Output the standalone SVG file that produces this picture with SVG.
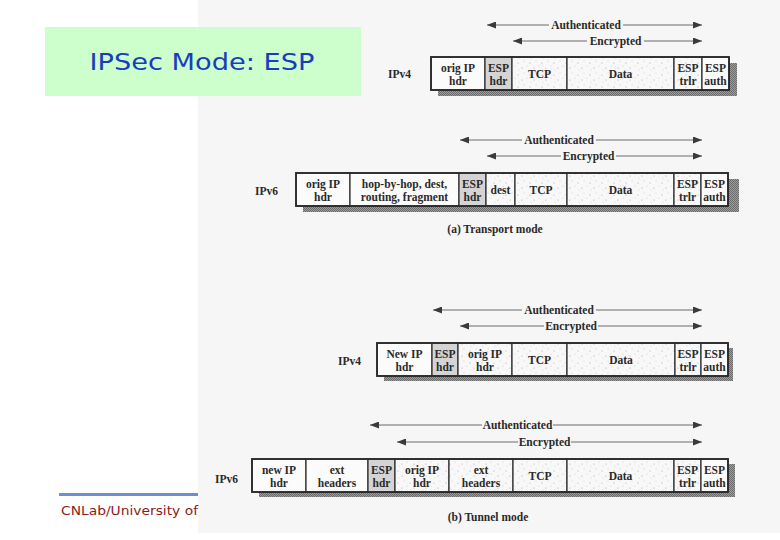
<svg xmlns="http://www.w3.org/2000/svg" width="780" height="540" viewBox="0 0 780 540">
<style>
.cell{stroke:#2a2a2a;stroke-width:1.2}
.plain{fill:#fbfbfb}
.hdr{fill:#d4d4d4}
.enc{fill:url(#speck)}
.outer{fill:none;stroke:#2a2a2a;stroke-width:1.8}
.shadow{fill:url(#shade)}
.t{font-family:"Liberation Serif","Times New Roman",serif;font-weight:bold;font-size:11.5px;fill:#2a2a2a;text-anchor:middle}
.lab{font-family:"Liberation Serif","Times New Roman",serif;font-weight:bold;font-size:11.5px;fill:#2a2a2a}
.arr{stroke:#6a6a6a;stroke-width:1;fill:none}
.al{marker-start:url(#head)}
.ar{marker-end:url(#head)}
</style>
<defs>
<pattern id="speck" width="12" height="12" patternUnits="userSpaceOnUse">
<rect width="12" height="12" fill="#f8f8f8"/>
<circle cx="2" cy="3" r="0.5" fill="#9a9a9a"/>
<circle cx="8" cy="1" r="0.45" fill="#aaa"/>
<circle cx="6" cy="8" r="0.5" fill="#9a9a9a"/>
<circle cx="11" cy="6" r="0.45" fill="#aaa"/>
<circle cx="3" cy="10" r="0.4" fill="#b0b0b0"/>
</pattern>
<pattern id="shade" width="2" height="2" patternUnits="userSpaceOnUse">
<rect width="2" height="2" fill="#9c9c9c"/>
<rect width="1" height="1" fill="#6c6c6c"/>
<rect x="1" y="1" width="1" height="1" fill="#6c6c6c"/>
</pattern>
<marker id="head" markerWidth="9" markerHeight="7" refX="9" refY="3.5" orient="auto-start-reverse" markerUnits="userSpaceOnUse">
<path d="M0,0 L9,3.5 L0,7 z" fill="#3a3a3a"/>
</marker>
</defs>

<rect x="0" y="0" width="780" height="540" fill="#ffffff"/>
<rect x="198" y="0" width="582" height="533" fill="#f6f6f6"/>

<g id="title">
<rect x="45" y="27" width="316" height="69" fill="#ccffcc"/>
<text x="202" y="70" font-family="'DejaVu Sans','Noto Sans',sans-serif" font-size="23" fill="#1a3cc0" text-anchor="middle" textLength="225" lengthAdjust="spacingAndGlyphs">IPSec Mode: ESP</text>
</g>

<g id="footer">
<rect x="59" y="493" width="139" height="3" fill="#6b8fd6"/>
<text x="61" y="515" font-family="'DejaVu Sans','Noto Sans',sans-serif" font-size="13" fill="#8b1a1a" textLength="137" lengthAdjust="spacingAndGlyphs">CNLab/University of</text>
</g>

<g id="connectors">
<line class="arr al" x1="487" y1="25" x2="549" y2="25"/>
<line class="arr ar" x1="623" y1="25" x2="702" y2="25"/>
<line class="arr al" x1="513" y1="41" x2="587" y2="41"/>
<line class="arr ar" x1="644" y1="41" x2="702" y2="41"/>

<line class="arr al" x1="460" y1="140" x2="522" y2="140"/>
<line class="arr ar" x1="596" y1="140" x2="702" y2="140"/>
<line class="arr al" x1="487" y1="156" x2="561" y2="156"/>
<line class="arr ar" x1="616" y1="156" x2="702" y2="156"/>

<line class="arr al" x1="433" y1="310" x2="522" y2="310"/>
<line class="arr ar" x1="596" y1="310" x2="702" y2="310"/>
<line class="arr al" x1="460" y1="326" x2="544" y2="326"/>
<line class="arr ar" x1="598" y1="326" x2="702" y2="326"/>

<line class="arr al" x1="370" y1="425" x2="482" y2="425"/>
<line class="arr ar" x1="553" y1="425" x2="702" y2="425"/>
<line class="arr al" x1="397" y1="442" x2="518" y2="442"/>
<line class="arr ar" x1="571" y1="442" x2="702" y2="442"/>

<text class="t" x="586" y="29">Authenticated</text>
<text class="t" x="615.5" y="45">Encrypted</text>
<text class="t" x="559" y="144">Authenticated</text>
<text class="t" x="588.5" y="160">Encrypted</text>
<text class="t" x="559" y="314">Authenticated</text>
<text class="t" x="571" y="330">Encrypted</text>
<text class="t" x="517.5" y="429">Authenticated</text>
<text class="t" x="544.5" y="446">Encrypted</text>
</g>

<!-- Row 1: IPv4 transport -->
<g id="row1">
<text class="lab" x="388" y="78">IPv4</text>
<rect class="shadow" x="438" y="63" width="299" height="33"/>
<g id="r1-orig"><rect class="cell plain" x="431" y="57" width="54" height="33"/><text class="t" x="458" y="71.5">orig IP</text><text class="t" x="458" y="84.5">hdr</text></g>
<g id="r1-esphdr"><rect class="cell hdr" x="485" y="57" width="27" height="33"/><text class="t" x="498.5" y="71.5">ESP</text><text class="t" x="498.5" y="84.5">hdr</text></g>
<g id="r1-tcp"><rect class="cell enc" x="512" y="57" width="55" height="33"/><text class="t" x="539.5" y="77.5">TCP</text></g>
<g id="r1-data"><rect class="cell enc" x="567" y="57" width="107" height="33"/><text class="t" x="620.5" y="77.5">Data</text></g>
<g id="r1-trlr"><rect class="cell enc" x="674" y="57" width="28" height="33"/><text class="t" x="688" y="71.5">ESP</text><text class="t" x="688" y="84.5">trlr</text></g>
<g id="r1-auth"><rect class="cell plain" x="702" y="57" width="27" height="33"/><text class="t" x="715.5" y="71.5">ESP</text><text class="t" x="715.5" y="84.5">auth</text></g>
<rect class="outer" x="431" y="57" width="298" height="33"/>
</g>

<!-- Row 2: IPv6 transport -->
<g id="row2">
<text class="lab" x="255" y="195">IPv6</text>
<rect class="shadow" x="303" y="179" width="436" height="33"/>
<g id="r2-orig"><rect class="cell plain" x="296" y="173" width="54" height="33"/><text class="t" x="323" y="187.5">orig IP</text><text class="t" x="323" y="200.5">hdr</text></g>
<g id="r2-ext"><rect class="cell plain" x="350" y="173" width="109" height="33"/><text class="t" x="404.5" y="187.5">hop-by-hop, dest,</text><text class="t" x="404.5" y="200.5">routing, fragment</text></g>
<g id="r2-esphdr"><rect class="cell hdr" x="459" y="173" width="27" height="33"/><text class="t" x="472.5" y="187.5">ESP</text><text class="t" x="472.5" y="200.5">hdr</text></g>
<g id="r2-dest"><rect class="cell enc" x="486" y="173" width="29" height="33"/><text class="t" x="500.5" y="193.5">dest</text></g>
<g id="r2-tcp"><rect class="cell enc" x="515" y="173" width="52" height="33"/><text class="t" x="541" y="193.5">TCP</text></g>
<g id="r2-data"><rect class="cell enc" x="567" y="173" width="107" height="33"/><text class="t" x="620.5" y="193.5">Data</text></g>
<g id="r2-trlr"><rect class="cell enc" x="674" y="173" width="27" height="33"/><text class="t" x="687.5" y="187.5">ESP</text><text class="t" x="687.5" y="200.5">trlr</text></g>
<g id="r2-auth"><rect class="cell plain" x="701" y="173" width="27" height="33"/><text class="t" x="714.5" y="187.5">ESP</text><text class="t" x="714.5" y="200.5">auth</text></g>
<rect class="outer" x="296" y="173" width="432" height="33"/>
</g>

<text class="t" x="495" y="233">(a) Transport mode</text>

<!-- Row 3: IPv4 tunnel -->
<g id="row3">
<text class="lab" x="338" y="365">IPv4</text>
<rect class="shadow" x="384" y="348" width="349" height="33"/>
<g id="r3-new"><rect class="cell plain" x="377" y="343" width="55" height="33"/><text class="t" x="404.5" y="357.5">New IP</text><text class="t" x="404.5" y="370.5">hdr</text></g>
<g id="r3-esphdr"><rect class="cell hdr" x="432" y="343" width="26" height="33"/><text class="t" x="445" y="357.5">ESP</text><text class="t" x="445" y="370.5">hdr</text></g>
<g id="r3-orig"><rect class="cell enc" x="458" y="343" width="54" height="33"/><text class="t" x="485" y="357.5">orig IP</text><text class="t" x="485" y="370.5">hdr</text></g>
<g id="r3-tcp"><rect class="cell enc" x="512" y="343" width="55" height="33"/><text class="t" x="539.5" y="363.5">TCP</text></g>
<g id="r3-data"><rect class="cell enc" x="567" y="343" width="108" height="33"/><text class="t" x="621" y="363.5">Data</text></g>
<g id="r3-trlr"><rect class="cell enc" x="675" y="343" width="26" height="33"/><text class="t" x="688" y="357.5">ESP</text><text class="t" x="688" y="370.5">trlr</text></g>
<g id="r3-auth"><rect class="cell plain" x="701" y="343" width="27" height="33"/><text class="t" x="714.5" y="357.5">ESP</text><text class="t" x="714.5" y="370.5">auth</text></g>
<rect class="outer" x="377" y="343" width="351" height="33"/>
</g>

<!-- Row 4: IPv6 tunnel -->
<g id="row4">
<text class="lab" x="215" y="483">IPv6</text>
<rect class="shadow" x="259" y="464" width="476" height="33"/>
<g id="r4-new"><rect class="cell plain" x="252" y="459" width="54" height="33"/><text class="t" x="279" y="473.5">new IP</text><text class="t" x="279" y="486.5">hdr</text></g>
<g id="r4-ext1"><rect class="cell plain" x="306" y="459" width="62" height="33"/><text class="t" x="337" y="473.5">ext</text><text class="t" x="337" y="486.5">headers</text></g>
<g id="r4-esphdr"><rect class="cell hdr" x="368" y="459" width="27" height="33"/><text class="t" x="381.5" y="473.5">ESP</text><text class="t" x="381.5" y="486.5">hdr</text></g>
<g id="r4-orig"><rect class="cell enc" x="395" y="459" width="54" height="33"/><text class="t" x="422" y="473.5">orig IP</text><text class="t" x="422" y="486.5">hdr</text></g>
<g id="r4-ext2"><rect class="cell enc" x="449" y="459" width="64" height="33"/><text class="t" x="481" y="473.5">ext</text><text class="t" x="481" y="486.5">headers</text></g>
<g id="r4-tcp"><rect class="cell enc" x="513" y="459" width="54" height="33"/><text class="t" x="540" y="479.5">TCP</text></g>
<g id="r4-data"><rect class="cell enc" x="567" y="459" width="107" height="33"/><text class="t" x="620.5" y="479.5">Data</text></g>
<g id="r4-trlr"><rect class="cell enc" x="674" y="459" width="27" height="33"/><text class="t" x="687.5" y="473.5">ESP</text><text class="t" x="687.5" y="486.5">trlr</text></g>
<g id="r4-auth"><rect class="cell plain" x="701" y="459" width="27" height="33"/><text class="t" x="714.5" y="473.5">ESP</text><text class="t" x="714.5" y="486.5">auth</text></g>
<rect class="outer" x="252" y="459" width="476" height="33"/>
</g>

<text class="t" x="488" y="521">(b) Tunnel mode</text>
</svg>
